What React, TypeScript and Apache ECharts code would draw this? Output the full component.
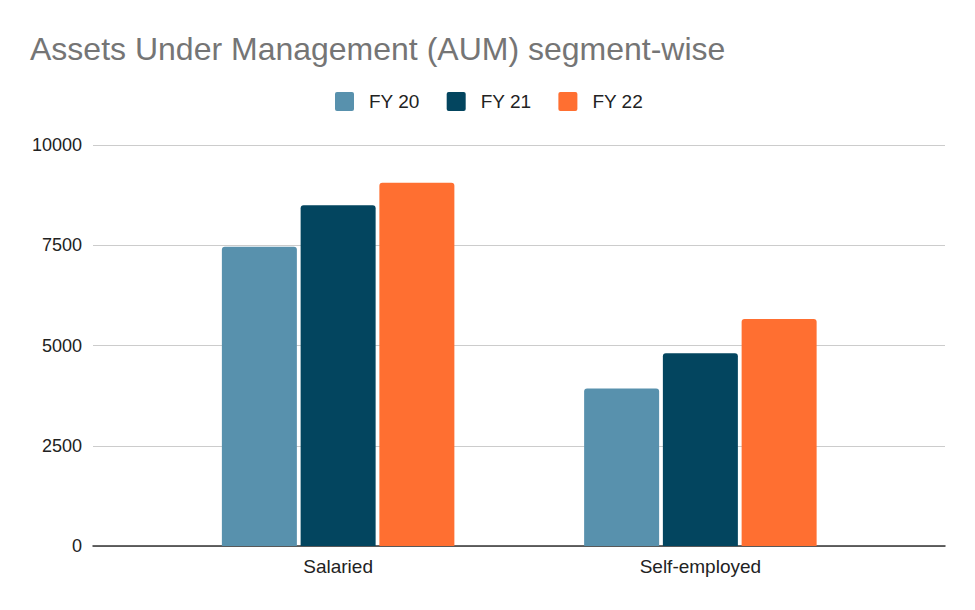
import React, { useEffect, useRef } from "react";
import * as echarts from "echarts";

const categories = ["Salaried", "Self-employed"];
const seriesNames = ["FY 20", "FY 21", "FY 22"];
const fy20 = [7460, 3930];
const fy21 = [8500, 4805];
const fy22 = [9060, 5660];
const colors = ["#5891ad", "#03455f", "#ff6f31"];
const yTicks = { min: 0, max: 10000, interval: 2500 };

const FONT = "'Liberation Sans', Arial, sans-serif";

export default function App() {
  const ref = useRef<HTMLDivElement>(null);
  useEffect(() => {
    document.body.style.margin = "0";
    if (!ref.current) return;
    const chart = echarts.init(ref.current, undefined, { renderer: "svg" });
    const values = [fy20, fy21, fy22];
    chart.setOption({
      animation: false,
      backgroundColor: "#ffffff",
      textStyle: { fontFamily: FONT },
      title: {
        text: "Assets Under Management (AUM) segment-wise",
        left: 30,
        top: 33,
        padding: 0,
        textStyle: { fontFamily: FONT, fontSize: 32, fontWeight: "normal", color: "#757575" },
      },
      legend: {
        left: 335,
        top: 92,
        padding: 0,
        itemWidth: 19,
        itemHeight: 19,
        itemGap: 27,
        icon: "path://M2,0 L17,0 Q19,0 19,2 L19,17 Q19,19 17,19 L2,19 Q0,19 0,17 L0,2 Q0,0 2,0 Z",
        data: seriesNames,
        textStyle: { fontFamily: FONT, fontSize: 19, color: "#222222", padding: [0, 0, 0, 10] },
      },
      grid: [
        { left: 93, right: 30, top: 145, bottom: 64 },
        { left: 157, right: 93.5, top: 145, bottom: 64 },
      ],
      xAxis: [
        {
          type: "category",
          gridIndex: 0,
          data: categories,
          axisLabel: { show: false },
          axisTick: { show: false },
          axisLine: { show: true, lineStyle: { color: "#333333", width: 1.5 } },
        },
        {
          type: "category",
          gridIndex: 1,
          data: categories,
          axisLabel: { fontFamily: FONT, fontSize: 19, color: "#222222", margin: 11 },
          axisTick: { show: false },
          axisLine: { show: false },
        },
      ],
      yAxis: [
        {
          type: "value",
          gridIndex: 0,
          min: yTicks.min,
          max: yTicks.max,
          interval: yTicks.interval,
          axisLabel: {
            fontFamily: FONT,
            fontSize: 18,
            color: "#222222",
            margin: 11,
            formatter: (v: number) => String(v),
          },
          axisLine: { show: false },
          axisTick: { show: false },
          splitLine: { lineStyle: { color: "#cccccc", width: 1 } },
        },
        {
          type: "value",
          gridIndex: 1,
          min: yTicks.min,
          max: yTicks.max,
          interval: yTicks.interval,
          axisLabel: { show: false },
          axisLine: { show: false },
          axisTick: { show: false },
          splitLine: { show: false },
        },
      ],
      series: seriesNames.map((name, i) => ({
        name,
        type: "bar",
        xAxisIndex: 1,
        yAxisIndex: 1,
        data: values[i],
        barWidth: 75,
        barGap: "5%",
        itemStyle: { color: colors[i], borderRadius: [3, 3, 0, 0] },
      })),
    });
    return () => chart.dispose();
  }, []);
  return <div ref={ref} style={{ width: 975, height: 610 }} />;
}
